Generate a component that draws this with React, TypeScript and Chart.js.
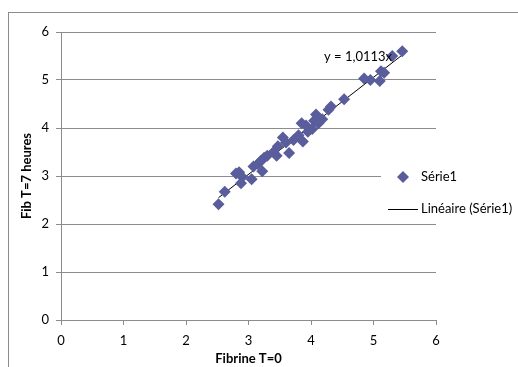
import React, { useEffect, useRef } from "react";
import { Chart, registerables } from "chart.js";

Chart.register(...registerables);

const xValues = [2.52, 2.62, 2.80, 2.85, 2.88, 2.90, 3.05, 3.08, 3.15, 3.20, 3.22, 3.25, 3.30, 3.40, 3.45, 3.47, 3.55, 3.60, 3.65, 3.72, 3.80, 3.85, 3.87, 3.92, 3.95, 4.02, 4.05, 4.08, 4.12, 4.18, 4.28, 4.32, 4.53, 4.85, 4.95, 5.10, 5.12, 5.17, 5.30, 5.46];
const yValues = [2.41, 2.67, 3.05, 3.08, 2.85, 2.98, 2.93, 3.20, 3.25, 3.32, 3.10, 3.38, 3.42, 3.50, 3.42, 3.62, 3.80, 3.70, 3.48, 3.75, 3.85, 4.10, 3.72, 4.05, 3.92, 3.98, 4.15, 4.28, 4.10, 4.18, 4.38, 4.45, 4.60, 5.03, 5.00, 4.98, 5.18, 5.15, 5.50, 5.60];
const slope = 1.0113;
const equationLabel = "y = 1,0113x";
const seriesName = "Série1";
const trendName = "Linéaire (Série1)";
const xTitle = "Fibrine T=0";
const yTitle = "Fib T=7 heures";
const axisMin = 0;
const axisMax = 6;

const FONT = "Lato, 'Open Sans', sans-serif";
const MARKER = "#5A5D9C";

export default function App() {
  const ref = useRef<HTMLCanvasElement | null>(null);
  useEffect(() => {
    if (!ref.current) return;
    const pts = xValues.map((x, i) => ({ x, y: yValues[i] }));
    const xmin = Math.min(...xValues);
    const xmax = Math.max(...xValues);
    const trend = [
      { x: xmin, y: slope * xmin },
      { x: xmax, y: slope * xmax },
    ];
    const overlay = {
      id: "overlay",
      afterDraw(chart: any) {
        const ctx = chart.ctx;
        ctx.save();
        ctx.strokeStyle = "#8c8c8c";
        ctx.lineWidth = 1;
        ctx.strokeRect(8.5, 12.5, 600, 400);
        ctx.fillStyle = "#000";
        ctx.font = `13px ${FONT}`;
        ctx.textBaseline = "middle";
        ctx.textAlign = "left";
        ctx.fillText(equationLabel, 324, 57);
        ctx.fillStyle = "#fff";
        ctx.fillRect(381, 165, 140, 52);
        const dx = 403, dy = 177, r = 6;
        ctx.fillStyle = MARKER;
        ctx.beginPath();
        ctx.moveTo(dx, dy - r);
        ctx.lineTo(dx + r, dy);
        ctx.lineTo(dx, dy + r);
        ctx.lineTo(dx - r, dy);
        ctx.closePath();
        ctx.fill();
        ctx.fillStyle = "#000";
        ctx.font = `13px ${FONT}`;
        ctx.fillText(seriesName, 421, 177);
        ctx.strokeStyle = "#000";
        ctx.beginPath();
        ctx.moveTo(388, 209.5);
        ctx.lineTo(418, 209.5);
        ctx.stroke();
        ctx.fillText(trendName, 421, 209);
        ctx.restore();
      },
    };
    const chart = new Chart(ref.current, {
      type: "scatter",
      data: {
        datasets: [
          {
            label: seriesName,
            data: pts,
            pointStyle: "rectRot",
            pointRadius: 6,
            backgroundColor: MARKER,
            borderColor: MARKER,
            borderWidth: 0,
          },
          {
            label: trendName,
            type: "line",
            data: trend,
            borderColor: "#000",
            borderWidth: 1,
            pointRadius: 0,
            showLine: true,
            fill: false,
          } as any,
        ],
      },
      options: {
        animation: false,
        responsive: false,
        maintainAspectRatio: false,
        layout: { padding: { left: 0, right: 82, top: 32, bottom: 0 } },
        plugins: { legend: { display: false }, tooltip: { enabled: false } },
        scales: {
          x: {
            type: "linear",
            min: axisMin,
            max: axisMax,
            ticks: { stepSize: 1, color: "#000", font: { family: FONT, size: 13 }, padding: 8 },
            grid: { drawOnChartArea: false, drawTicks: true, tickLength: 5, color: "#8c8c8c" },
            border: { display: true, color: "#8c8c8c" },
            title: { display: true, text: xTitle, color: "#000", font: { family: FONT, size: 13, weight: "bold" }, padding: { top: 0, bottom: 0 } },
            afterFit(scale: any) { scale.height = 47; },
          },
          y: {
            type: "linear",
            min: axisMin,
            max: axisMax,
            ticks: { stepSize: 1, color: "#000", font: { family: FONT, size: 13 }, padding: 7 },
            grid: { drawOnChartArea: true, drawTicks: true, tickLength: 5, color: "#8c8c8c" },
            border: { display: true, color: "#8c8c8c" },
            title: { display: true, text: yTitle, color: "#000", font: { family: FONT, size: 13, weight: "bold" }, padding: { top: 19, bottom: 0 } },
            afterFit(scale: any) { scale.width = 61; },
          },
        },
      },
      plugins: [overlay],
    });
    return () => chart.destroy();
  }, []);
  return (
    <div style={{ position: "fixed", left: 0, top: 0, width: 518, height: 367, background: "#fff" }}>
      <canvas ref={ref} width={518} height={367} style={{ width: 518, height: 367 }} />
    </div>
  );
}
